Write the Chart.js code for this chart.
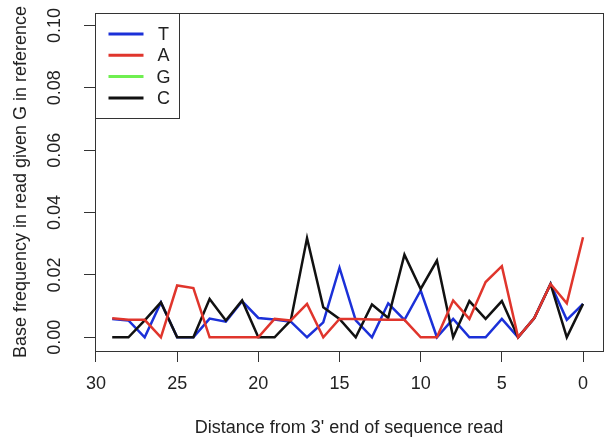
<!DOCTYPE html>
<html>
<head>
<meta charset="utf-8">
<script src="https://cdn.jsdelivr.net/npm/chart.js@4"></script>
<style>
  html, body { margin: 0; padding: 0; background: #fff; }
  canvas { display: block; }
</style>
</head>
<body>
<canvas id="baseFreq" width="608" height="440"></canvas>
<script>
// Distance from the 3' end, one point per position
const positions = [29, 28, 27, 26, 25, 24, 23, 22, 21, 20, 19, 18, 17, 16, 15,
                   14, 13, 12, 11, 10, 9, 8, 7, 6, 5, 4, 3, 2, 1, 0];

const freqT = [0.0059, 0.0054, 0, 0.0112, 0, 0, 0.0060, 0.0050, 0.0116, 0.0062, 0.0057, 0.0050, 0, 0.0048, 0.0223,
               0.0054, 0, 0.0109, 0.0056, 0.0150, 0, 0.0059, 0, 0, 0.0059, 0, 0.0062, 0.0171, 0.0056, 0.0107];
const freqA = [0.0061, 0.0056, 0.0056, 0, 0.0166, 0.0158, 0, 0, 0, 0, 0.0059, 0.0054, 0.0107, 0, 0.0059,
               0.0059, 0.0057, 0.0056, 0.0056, 0, 0, 0.0118, 0.0059, 0.0177, 0.0228, 0, 0.0062, 0.0171, 0.0109, 0.0321];
const freqG = []; // same base as the reference, far above the plotted range
const freqC = [0, 0, 0.0054, 0.0112, 0, 0, 0.0123, 0.0054, 0.0118, 0, 0, 0.0054, 0.0318, 0.0096, 0.0059,
               0, 0.0105, 0.0062, 0.0265, 0.0155, 0.0246, 0, 0.0116, 0.0059, 0.0116, 0, 0.0062, 0.0171, 0, 0.0107];

const baseNames = ['T', 'A', 'G', 'C'];
const baseColors = ['#1b30d8', '#e0352c', '#6fef50', '#111111'];
const xTicks = [30, 25, 20, 15, 10, 5, 0];
const yTicks = [0, 0.02, 0.04, 0.06, 0.08, 0.10];

const FONT = '"Liberation Sans", Arial, sans-serif';
const TEXT = '#222';

function toPoints(values) {
  return values.map((v, i) => ({ x: positions[i], y: v }));
}

// draw order: A on top, then C, G, T underneath
const series = [freqT, freqA, freqG, freqC];
const drawOrder = [3, 0, 2, 1];

const datasets = series.map((vals, i) => ({
  label: baseNames[i],
  data: toPoints(vals),
  borderColor: baseColors[i],
  backgroundColor: baseColors[i],
  borderWidth: 2.5,
  pointRadius: 0,
  tension: 0,
  order: drawOrder[i]
}));

// rotated y tick labels, box around the plot, and the legend box
const decorations = {
  id: 'decorations',
  afterDraw(chart) {
    const ctx = chart.ctx;
    const area = chart.chartArea;
    const y = chart.scales.y;

    ctx.save();
    ctx.strokeStyle = '#333';
    ctx.lineWidth = 1;
    ctx.strokeRect(Math.round(area.left) + 0.5, Math.round(area.top) + 0.5,
                   Math.round(area.right - area.left), Math.round(area.bottom - area.top));

    ctx.fillStyle = TEXT;
    ctx.font = '18px ' + FONT;
    ctx.textAlign = 'center';
    ctx.textBaseline = 'alphabetic';
    yTicks.forEach(v => {
      ctx.save();
      ctx.translate(60, y.getPixelForValue(v));
      ctx.rotate(-Math.PI / 2);
      ctx.fillText(v.toFixed(2), 0, 0);
      ctx.restore();
    });

    // legend
    const lx = Math.round(area.left) + 0.5;
    const ly = Math.round(area.top) + 0.5;
    ctx.fillStyle = '#fff';
    ctx.fillRect(lx, ly, 84, 105);
    ctx.strokeStyle = '#333';
    ctx.strokeRect(lx, ly, 84, 105);
    ctx.lineWidth = 3;
    ctx.textBaseline = 'middle';
    baseNames.forEach((name, i) => {
      const ry = ly + 20.5 + i * 21.3;
      ctx.strokeStyle = baseColors[i];
      ctx.beginPath();
      ctx.moveTo(lx + 13, ry);
      ctx.lineTo(lx + 48, ry);
      ctx.stroke();
      ctx.fillStyle = TEXT;
      ctx.fillText(name, lx + 68, ry + 1);
    });
    ctx.restore();
  }
};

new Chart(document.getElementById('baseFreq'), {
  type: 'line',
  data: { datasets },
  options: {
    responsive: false,
    animation: false,
    layout: { padding: { top: 13, right: 5, left: 0, bottom: 0 } },
    plugins: {
      legend: { display: false },
      tooltip: { enabled: false }
    },
    scales: {
      x: {
        type: 'linear',
        reverse: true,
        min: -1.23,
        max: 30.06,
        afterBuildTicks: s => { s.ticks = xTicks.map(v => ({ value: v })); },
        afterFit: s => { s.height = 89; },
        border: { display: false },
        grid: { drawOnChartArea: false, drawTicks: true, tickLength: 11, color: '#333', lineWidth: 1 },
        ticks: { font: { size: 18, family: FONT }, color: TEXT, padding: 11, maxRotation: 0 },
        title: {
          display: true,
          text: "Distance from 3' end of sequence read",
          font: { size: 18, family: FONT },
          color: TEXT,
          padding: { top: 0, bottom: 1 }
        }
      },
      y: {
        type: 'linear',
        min: -0.0044,
        max: 0.1040,
        afterBuildTicks: s => { s.ticks = yTicks.map(v => ({ value: v })); },
        afterFit: s => { s.width = 95; },
        border: { display: false },
        grid: { drawOnChartArea: false, drawTicks: true, tickLength: 11, color: '#333', lineWidth: 1 },
        ticks: { display: false },
        title: {
          display: true,
          text: 'Base frequency in read given G in reference',
          font: { size: 18, family: FONT },
          color: TEXT,
          padding: { top: 10, bottom: 0 }
        }
      }
    }
  },
  plugins: [decorations]
});
</script>
</body>
</html>
